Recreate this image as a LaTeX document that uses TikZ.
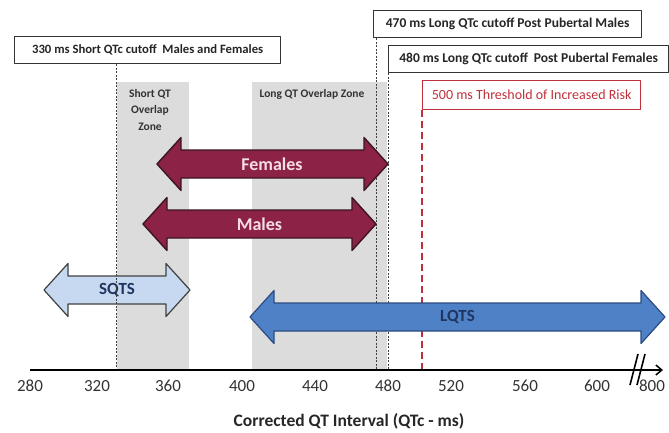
\documentclass[tikz,border=0pt]{standalone}
\usepackage{fontspec}
\setmainfont{Carlito}
\usetikzlibrary{arrows.meta}

\definecolor{wine}{HTML}{8C2346}
\definecolor{wineline}{HTML}{3B1520}
\definecolor{winetext}{HTML}{F6DCE3}
\definecolor{paleblue}{HTML}{C6D9F0}
\definecolor{midblue}{HTML}{4F81C7}
\definecolor{darkblue}{HTML}{2B4C80}
\definecolor{navy}{HTML}{1F3560}
\definecolor{zonegray}{HTML}{DCDCDC}
\definecolor{riskred}{HTML}{C0303A}

% double headed block arrow: style, left tip, right tip, centre y
\newcommand{\blockarrow}[4]{%
  \draw[#1] (#2,#4) -- ({#2+24},{#4-26.5}) -- ({#2+24},{#4-14}) -- ({#3-24},{#4-14})
    -- ({#3-24},{#4-26.5}) -- (#3,#4) -- ({#3-24},{#4+26.5}) -- ({#3-24},{#4+14})
    -- ({#2+24},{#4+14}) -- ({#2+24},{#4+26.5}) -- cycle;}

\begin{document}
\begin{tikzpicture}[x=1pt,y=-1pt,line join=round,
    cutbox/.style={draw=black!80,line width=1.3pt,fill=white,inner sep=0pt,
        minimum height=27pt,anchor=north west,text=black!85,
        font=\bfseries\fontsize{13.5}{15}\selectfont},
    zone/.style={fill=zonegray,inner sep=0pt,anchor=north west},
    zonetext/.style={text=black!80,align=center,font=\bfseries\fontsize{11.5}{16.5}\selectfont},
    cutline/.style={draw=black!75,line width=0.9pt,dash pattern=on 2pt off 1.5pt},
    femshape/.style={fill=wine,draw=wineline,line width=1.4pt},
    blueshape/.style={fill=paleblue,draw=black!75,line width=1.2pt},
    lqshape/.style={fill=midblue,draw=darkblue,line width=1.2pt},
    sextext/.style={text=winetext,font=\bfseries\fontsize{18}{20}\selectfont},
    syntext/.style={text=navy,font=\bfseries\fontsize{17}{19}\selectfont}]
    \useasboundingbox (0,0) rectangle (669,432);

    % overlap zones
    \node[zone,minimum width=72pt,minimum height=288pt] (szone) at (117,82) {};
    \node[zone,minimum width=135pt,minimum height=288pt] (lzone) at (252,82) {};
    \node[zonetext] (sztext) at (150,110) {Short QT\\Overlap\\Zone};
    \node[zonetext] (lztext) at (312,94) {Long QT Overlap Zone};

    % cutoff boxes
    \node[cutbox,minimum width=266pt,font=\bfseries\fontsize{12.7}{15}\selectfont] (c330) at (14,36) {330 ms Short QTc cutoff\ \ Males and Females};
    \node[cutbox,minimum width=268pt] (c470) at (373,10) {470 ms Long QTc cutoff Post Pubertal Males};
    \node[cutbox,minimum width=280pt] (c480) at (388,45) {480 ms Long QTc cutoff\ \ Post Pubertal Females};
    \node[cutbox,draw=riskred,text=riskred,minimum width=218pt,minimum height=29pt,
        font=\fontsize{14}{16}\selectfont] (c500) at (422,80) {500 ms Threshold of Increased Risk};

    \coordinate (t330) at (116,370);
    \coordinate (t470) at (376,370);
    \coordinate (t480) at (388,370);
    \coordinate (t500) at (422,370);
    \draw[cutline] (t470 |- c470.south) -- (t470);
    \draw[cutline] (t480 |- c480.south) -- (t480);
    \draw[riskred,line width=2pt,dash pattern=on 7pt off 4pt] (t500 |- c500.south) -- (t500);

    % ranges
    \blockarrow{femshape}{157}{388}{164}
    \blockarrow{femshape}{143}{376}{224}
    \blockarrow{blueshape}{44}{190}{290}
    \blockarrow{lqshape}{250}{665}{317}
    \node[sextext] (fem) at (272,164) {Females};
    \node[sextext] (mal) at (259.5,224) {Males};
    \node[syntext] (sqts) at (117,290) {SQTS};
    \node[syntext] (lqts) at (457.5,317) {LQTS};

    \draw[cutline] (t330 |- c330.south) -- (t330);

    % axis
    \coordinate (a0) at (30,370);
    \coordinate (a1) at (663,370);
    \draw[line width=1.5pt,-{Straight Barb[length=6pt,width=10pt]}] (a0) -- (a1);
    \draw[line width=1.6pt] (638,354) -- (630,385) (645,354) -- (637,385);
    \foreach \v/\x in {280/30,320/97,360/168,400/242,440/315,480/388,520/451,560/525,600/597}
        \node[text=black!80,font=\fontsize{17}{19}\selectfont] (l\v) at (\x,386) {\v};
    \node[text=black!80,font=\fontsize{17}{19}\selectfont,anchor=east] (l800) at (668.5,386) {800};
    \node[text=black!85,font=\bfseries\fontsize{17.5}{19}\selectfont] (xtitle) at (349,421) {Corrected QT Interval (QTc - ms)};
\end{tikzpicture}
\end{document}
